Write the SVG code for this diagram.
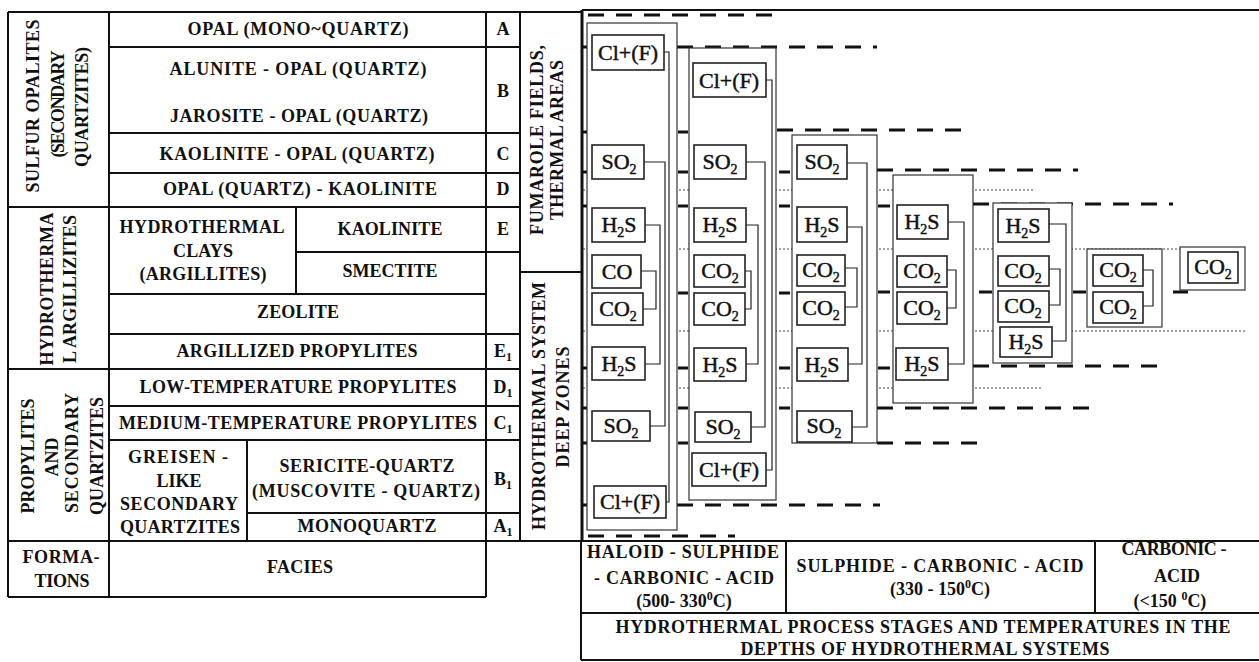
<svg xmlns="http://www.w3.org/2000/svg" width="1259" height="662" viewBox="0 0 1259 662">
<style>
.t{font-family:"Liberation Serif","Times New Roman",serif;font-weight:bold;font-size:18px;fill:#111;text-anchor:middle}
.g{font-family:"Liberation Serif","Times New Roman",serif;font-size:22px;fill:#111;stroke:#111;stroke-width:0.45;text-anchor:middle}
.s{font-size:14px}
.sub{font-size:12px}
.ln{stroke:#111;stroke-width:2;fill:none}
.bd{stroke:#111;stroke-width:3;fill:none}
.col{fill:#fff;stroke:#333;stroke-width:1.2}
.box{fill:#fff;stroke:#222;stroke-width:1.6}
.cn{stroke:#222;stroke-width:1.2;fill:none}
.dash{stroke:#111;stroke-width:3;stroke-dasharray:16 12;fill:none}
.dot{stroke:#444;stroke-width:1;stroke-dasharray:2 2;fill:none}
.tick{stroke:#111;stroke-width:3;fill:none}
</style>

<!-- left table grid -->
<g id="left-table" class="ln">
<path d="M8 12H582M8 12V597M109 12V597M486 12V597M520 12V541"/>
<path d="M109 47H520M109 133H520M109 173H520M8 207H520M296 252H520M109 294H486M109 334H520M8 369H520M109 406H520M109 440H520M247 513H520M8 541H1259M8 597H486"/>
<path d="M296 207V294M247 440V541M520 272H582"/>
</g>

<g id="formation-sulfur"><text class="t" transform="translate(39,106) rotate(-90)" textLength="173">SULFUR OPALITES</text><text class="t" transform="translate(64,104) rotate(-90)" textLength="107">(SECONDARY</text><text class="t" transform="translate(88,107) rotate(-90)" textLength="120">QUARTZITES)</text></g>
<g id="formation-argillizites"><text class="t" transform="translate(53,289) rotate(-90)" textLength="153">HYDROTHERMA</text><text class="t" transform="translate(76,289) rotate(-90)" textLength="148">L ARGILLIZITES</text></g>
<g id="formation-propylites"><text class="t" transform="translate(34,456) rotate(-90)" textLength="115">PROPYLITES</text><text class="t" transform="translate(58,457) rotate(-90)">AND</text><text class="t" transform="translate(78,453) rotate(-90)" textLength="120">SECONDARY</text><text class="t" transform="translate(103,456) rotate(-90)" textLength="118">QUARTZITES</text></g>
<g id="formations-head"><text class="t" x="61" y="563" textLength="77">FORMA-</text><text class="t" x="62" y="587" textLength="55">TIONS</text></g>

<g id="facies-A"><text class="t" x="298" y="35" textLength="221">OPAL (MONO~QUARTZ)</text><text class="t" x="503" y="35">A</text></g>
<g id="facies-B"><text class="t" x="298" y="75" textLength="257">ALUNITE - OPAL (QUARTZ)</text><text class="t" x="299" y="122" textLength="258">JAROSITE - OPAL (QUARTZ)</text><text class="t" x="503" y="97">B</text></g>
<g id="facies-C"><text class="t" x="297" y="160" textLength="275">KAOLINITE - OPAL (QUARTZ)</text><text class="t" x="503" y="160">C</text></g>
<g id="facies-D"><text class="t" x="300" y="195" textLength="274">OPAL (QUARTZ) - KAOLINITE</text><text class="t" x="503" y="195">D</text></g>
<g id="facies-clays"><text class="t" x="202" y="233" textLength="165">HYDROTHERMAL</text><text class="t" x="203" y="257" textLength="60">CLAYS</text><text class="t" x="203" y="280" textLength="127">(ARGILLITES)</text></g>
<g id="facies-E"><text class="t" x="390" y="235" textLength="105">KAOLINITE</text><text class="t" x="503" y="235">E</text></g>
<g id="facies-smectite"><text class="t" x="390" y="277" textLength="95">SMECTITE</text></g>
<g id="facies-zeolite"><text class="t" x="298" y="318" textLength="82">ZEOLITE</text></g>
<g id="facies-E1"><text class="t" x="297" y="357" textLength="241">ARGILLIZED PROPYLITES</text><text class="t" x="503" y="357">E<tspan class="sub" dy="4">1</tspan></text></g>
<g id="facies-D1"><text class="t" x="298" y="393" textLength="317">LOW-TEMPERATURE PROPYLITES</text><text class="t" x="503" y="393">D<tspan class="sub" dy="4">1</tspan></text></g>
<g id="facies-C1"><text class="t" x="298" y="429" textLength="358">MEDIUM-TEMPERATURE PROPYLITES</text><text class="t" x="503" y="429">C<tspan class="sub" dy="4">1</tspan></text></g>
<g id="facies-greisen"><text class="t" x="178" y="463" textLength="100">GREISEN -</text><text class="t" x="179" y="487" textLength="45">LIKE</text><text class="t" x="179" y="510" textLength="118">SECONDARY</text><text class="t" x="180" y="533" textLength="120">QUARTZITES</text></g>
<g id="facies-B1"><text class="t" x="367" y="472" textLength="175">SERICITE-QUARTZ</text><text class="t" x="366" y="497" textLength="228">(MUSCOVITE - QUARTZ)</text><text class="t" x="503" y="485">B<tspan class="sub" dy="4">1</tspan></text></g>
<g id="facies-A1"><text class="t" x="367" y="532" textLength="139">MONOQUARTZ</text><text class="t" x="503" y="532">A<tspan class="sub" dy="4">1</tspan></text></g>
<g id="facies-head"><text class="t" x="300" y="573" textLength="66">FACIES</text></g>

<g id="zone-fumarole"><text class="t" transform="translate(543,140) rotate(-90)" textLength="190">FUMAROLE FIELDS,</text><text class="t" transform="translate(563,140) rotate(-90)" textLength="160">THERMAL AREAS</text></g>
<g id="zone-deep"><text class="t" transform="translate(545,406) rotate(-90)" textLength="248">HYDROTHERMAL SYSTEM</text><text class="t" transform="translate(569,407) rotate(-90)" textLength="121">DEEP ZONES</text></g>

<!-- right chart frame -->
<g id="chart-frame">
<path class="ln" d="M582 10H1259"/>
<path class="bd" d="M582 10V541"/>
<path class="tick" d="M583 47H588M583 132H588M583 172H588M583 206H588M583 368H588M583 408H588M583 443H588M583 505H588"/>
</g>

<!-- level lines -->
<g id="levels">
<path class="dot" d="M583 190H1035M583 249H1180M583 331H1245M583 388H1042"/>
<path class="dash" d="M588 15H772M677 47H877M777 130H967M877 170H1078M973 204H1173M973 366H1162M877 408H1090M877 443H987M677 505H880M588 536H735"/>
</g>

<!-- columns -->
<g id="col1"><rect class="col" x="587" y="23" width="90" height="507"/></g>
<g id="col2"><rect class="col" x="689" y="48" width="87" height="452"/></g>
<g id="col3"><rect class="col" x="792" y="135" width="85" height="308"/></g>
<g id="col4"><rect class="col" x="893" y="175" width="80" height="228"/></g>
<g id="col5"><rect class="col" x="993" y="203" width="79" height="160"/></g>
<g id="col6"><rect class="col" x="1087" y="249" width="75" height="78"/></g>
<g id="col7"><rect class="col" x="1180" y="247" width="65" height="43"/></g>

<g id="gap-ticks" class="tick">
<path d="M678 132H688M678 172H688M678 206H688M678 293H688M678 368H688M678 408H688M678 443H688"/>
<path d="M779 172H790M779 206H790M779 293H790M779 368H790M779 408H790"/>
<path d="M878 206H890M878 292H890M878 368H890"/>
<path d="M979 292H992M1073 292H1086M1173 292H1188"/>
</g>

<!-- connectors -->
<g id="connectors" class="cn">
<path d="M664 52H669V502H666"/>
<path d="M644 162H665V426H650"/>
<path d="M645 225H660V364H645"/>
<path d="M641 271H656V309H643"/>
<path d="M766 80H772V470H766"/>
<path d="M746 162H765V427H751"/>
<path d="M746 225H758V364H746"/>
<path d="M745 271H751V309H745"/>
<path d="M847 163H867V427H852"/>
<path d="M847 227H862V364H848"/>
<path d="M845 268H857V307H845"/>
<path d="M948 222H964V364H948"/>
<path d="M947 270H956V308H947"/>
<path d="M1049 224H1066V341H1052"/>
<path d="M1049 269H1060V305H1049"/>
<path d="M1143 270H1153V306H1143"/>
</g>

<!-- gas boxes -->
<g id="c1-cl-top"><rect class="box" x="592" y="35" width="72" height="35"/><text class="g" x="628" y="60">Cl+(F)</text></g>
<g id="c1-so2-top"><rect class="box" x="592" y="145" width="52" height="34"/><text class="g" x="619" y="169">SO<tspan class="s" dy="5">2</tspan></text></g>
<g id="c1-h2s-top"><rect class="box" x="592" y="208" width="53" height="34"/><text class="g" x="619" y="232">H<tspan class="s" dy="5">2</tspan><tspan dy="-5">S</tspan></text></g>
<g id="c1-co"><rect class="box" x="592" y="255" width="49" height="33"/><text class="g" x="617" y="279">CO</text></g>
<g id="c1-co2"><rect class="box" x="592" y="293" width="51" height="32"/><text class="g" x="618" y="316">CO<tspan class="s" dy="5">2</tspan></text></g>
<g id="c1-h2s-bot"><rect class="box" x="592" y="347" width="53" height="33"/><text class="g" x="619" y="371">H<tspan class="s" dy="5">2</tspan><tspan dy="-5">S</tspan></text></g>
<g id="c1-so2-bot"><rect class="box" x="592" y="411" width="58" height="30"/><text class="g" x="621" y="433">SO<tspan class="s" dy="5">2</tspan></text></g>
<g id="c1-cl-bot"><rect class="box" x="594" y="486" width="72" height="32"/><text class="g" x="630" y="509">Cl+(F)</text></g>

<g id="c2-cl-top"><rect class="box" x="693" y="63" width="73" height="34"/><text class="g" x="729" y="88">Cl+(F)</text></g>
<g id="c2-so2-top"><rect class="box" x="694" y="145" width="52" height="34"/><text class="g" x="720" y="169">SO<tspan class="s" dy="5">2</tspan></text></g>
<g id="c2-h2s-top"><rect class="box" x="694" y="208" width="52" height="34"/><text class="g" x="720" y="232">H<tspan class="s" dy="5">2</tspan><tspan dy="-5">S</tspan></text></g>
<g id="c2-co2-a"><rect class="box" x="694" y="255" width="51" height="32"/><text class="g" x="720" y="278">CO<tspan class="s" dy="5">2</tspan></text></g>
<g id="c2-co2-b"><rect class="box" x="694" y="293" width="51" height="32"/><text class="g" x="720" y="316">CO<tspan class="s" dy="5">2</tspan></text></g>
<g id="c2-h2s-bot"><rect class="box" x="694" y="348" width="52" height="33"/><text class="g" x="720" y="372">H<tspan class="s" dy="5">2</tspan><tspan dy="-5">S</tspan></text></g>
<g id="c2-so2-bot"><rect class="box" x="695" y="412" width="56" height="30"/><text class="g" x="723" y="434">SO<tspan class="s" dy="5">2</tspan></text></g>
<g id="c2-cl-bot"><rect class="box" x="692" y="453" width="74" height="33"/><text class="g" x="729" y="477">Cl+(F)</text></g>

<g id="c3-so2-top"><rect class="box" x="797" y="145" width="50" height="34"/><text class="g" x="822" y="169">SO<tspan class="s" dy="5">2</tspan></text></g>
<g id="c3-h2s-top"><rect class="box" x="797" y="207" width="50" height="35"/><text class="g" x="822" y="232">H<tspan class="s" dy="5">2</tspan><tspan dy="-5">S</tspan></text></g>
<g id="c3-co2-a"><rect class="box" x="797" y="255" width="48" height="31"/><text class="g" x="821" y="277">CO<tspan class="s" dy="5">2</tspan></text></g>
<g id="c3-co2-b"><rect class="box" x="797" y="292" width="48" height="33"/><text class="g" x="821" y="315">CO<tspan class="s" dy="5">2</tspan></text></g>
<g id="c3-h2s-bot"><rect class="box" x="797" y="348" width="51" height="33"/><text class="g" x="822" y="372">H<tspan class="s" dy="5">2</tspan><tspan dy="-5">S</tspan></text></g>
<g id="c3-so2-bot"><rect class="box" x="797" y="411" width="55" height="31"/><text class="g" x="824" y="433">SO<tspan class="s" dy="5">2</tspan></text></g>

<g id="c4-h2s-top"><rect class="box" x="897" y="205" width="51" height="34"/><text class="g" x="922" y="229">H<tspan class="s" dy="5">2</tspan><tspan dy="-5">S</tspan></text></g>
<g id="c4-co2-a"><rect class="box" x="897" y="256" width="50" height="31"/><text class="g" x="922" y="278">CO<tspan class="s" dy="5">2</tspan></text></g>
<g id="c4-co2-b"><rect class="box" x="897" y="292" width="50" height="32"/><text class="g" x="922" y="315">CO<tspan class="s" dy="5">2</tspan></text></g>
<g id="c4-h2s-bot"><rect class="box" x="896" y="348" width="52" height="32"/><text class="g" x="922" y="371">H<tspan class="s" dy="5">2</tspan><tspan dy="-5">S</tspan></text></g>

<g id="c5-h2s-top"><rect class="box" x="998" y="209" width="51" height="33"/><text class="g" x="1023" y="233">H<tspan class="s" dy="5">2</tspan><tspan dy="-5">S</tspan></text></g>
<g id="c5-co2-a"><rect class="box" x="998" y="256" width="51" height="30"/><text class="g" x="1023" y="278">CO<tspan class="s" dy="5">2</tspan></text></g>
<g id="c5-co2-b"><rect class="box" x="998" y="291" width="51" height="31"/><text class="g" x="1023" y="313">CO<tspan class="s" dy="5">2</tspan></text></g>
<g id="c5-h2s-bot"><rect class="box" x="1000" y="327" width="52" height="30"/><text class="g" x="1026" y="349">H<tspan class="s" dy="5">2</tspan><tspan dy="-5">S</tspan></text></g>

<g id="c6-co2-a"><rect class="box" x="1093" y="255" width="50" height="31"/><text class="g" x="1118" y="277">CO<tspan class="s" dy="5">2</tspan></text></g>
<g id="c6-co2-b"><rect class="box" x="1093" y="292" width="50" height="31"/><text class="g" x="1118" y="314">CO<tspan class="s" dy="5">2</tspan></text></g>

<g id="c7-co2"><rect class="box" x="1188" y="252" width="50" height="31"/><text class="g" x="1213" y="274">CO<tspan class="s" dy="5">2</tspan></text></g>

<!-- bottom table -->
<g id="stage-table" class="ln">
<path d="M581 541V660M581 613H1259M581 660H1259M786 541V613M1095 541V613"/>
</g>
<g id="stage-haloid"><text class="t" x="683" y="558" textLength="192">HALOID - SULPHIDE</text><text class="t" x="684" y="584" textLength="180">- CARBONIC - ACID</text><text class="t" x="684" y="607">(500- 330<tspan class="sub" dy="-7">0</tspan><tspan dy="7">C)</tspan></text></g>
<g id="stage-sulphide"><text class="t" x="940" y="572" textLength="287">SULPHIDE - CARBONIC - ACID</text><text class="t" x="940" y="595">(330 - 150<tspan class="sub" dy="-7">0</tspan><tspan dy="7">C)</tspan></text></g>
<g id="stage-carbonic"><text class="t" x="1174" y="555" textLength="105">CARBONIC -</text><text class="t" x="1177" y="582">ACID</text><text class="t" x="1170" y="607">(&lt;150 <tspan class="sub" dy="-7">0</tspan><tspan dy="7">C)</tspan></text></g>
<g id="stage-title"><text class="t" x="923" y="633" textLength="615">HYDROTHERMAL PROCESS STAGES AND TEMPERATURES IN THE</text><text class="t" x="925" y="655" textLength="369">DEPTHS OF HYDROTHERMAL SYSTEMS</text></g>
</svg>
